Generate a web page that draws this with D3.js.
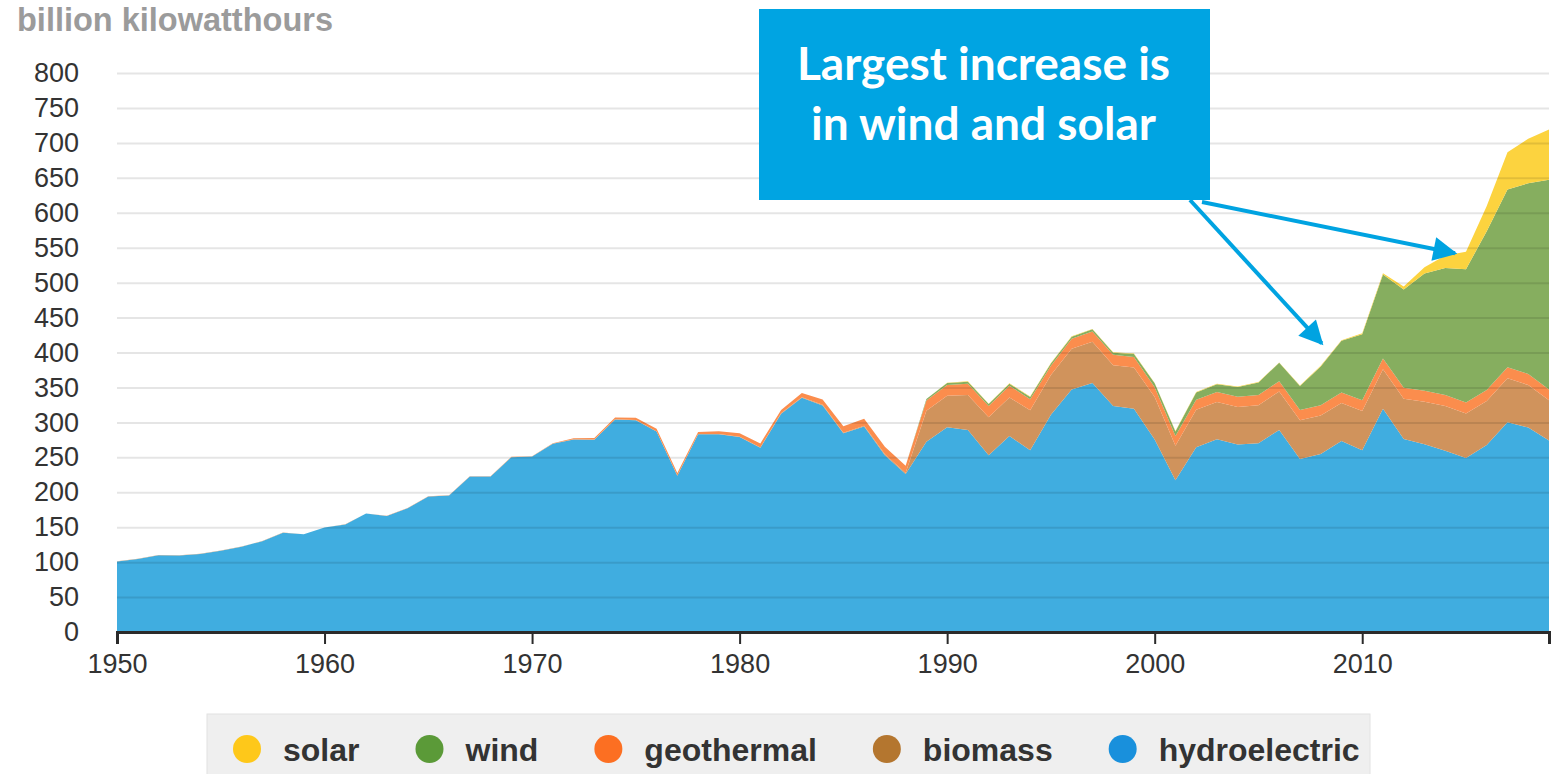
<!DOCTYPE html>
<html>
<head>
<meta charset="utf-8">
<script src="https://cdn.jsdelivr.net/npm/d3@7"></script>
<style>
  body { margin: 0; background: #fff; }
  svg { display: block; font-family: "Liberation Sans", Arial, sans-serif; }
</style>
</head>
<body>
<svg id="chart" width="1557" height="774"></svg>
<script>
// Renewable electricity generation, billion kWh, one value per year 1950-2019.
const years = d3.range(1950, 2020);

const hydroelectric = [
  100.9, 104.4, 109.7, 109.6, 111.6, 116.2, 122.0, 130.0, 142.0, 139.8,
  149.4, 154.0, 169.5, 166.0, 177.1, 193.9, 195.3, 222.5, 222.5, 250.2,
  251.0, 269.4, 275.5, 275.3, 304.1, 303.2, 286.9, 223.6, 283.0, 283.1,
  279.2, 263.8, 312.4, 335.3, 324.3, 284.3, 294.0, 252.9, 226.1, 272.1,
  292.9, 289.0, 253.1, 280.5, 260.1, 310.8, 347.2, 356.5, 323.3, 319.5,
  275.6, 217.0, 264.3, 275.8, 268.4, 270.3, 289.2, 247.5, 254.8, 273.4,
  260.2, 319.4, 276.2, 268.6, 259.4, 249.1, 267.8, 300.3, 292.5, 274.0
];

const biomass = [
  0.4, 0.4, 0.4, 0.3, 0.3, 0.3, 0.3, 0.3, 0.3, 0.2,
  0.1, 0.1, 0.1, 0.1, 0.1, 0.1, 0.1, 0.1, 0.1, 0.1,
  0.2, 0.2, 0.2, 0.2, 0.2, 0.2, 0.2, 0.2, 0.2, 0.2,
  0.3, 0.4, 0.5, 0.7, 0.8, 0.9, 1.0, 1.4, 1.6, 44.5,
  45.3, 50.3, 54.1, 55.1, 57.4, 56.9, 58.0, 58.8, 58.6, 59.1,
  60.7, 49.7, 53.7, 53.3, 53.5, 54.3, 54.9, 55.5, 55.0, 54.5,
  56.1, 56.7, 57.6, 60.9, 64.0, 63.6, 62.8, 62.7, 60.9, 57.5
];

const geothermal = [
  0, 0, 0, 0, 0, 0, 0, 0, 0, 0,
  0.03, 0.1, 0.1, 0.2, 0.2, 0.2, 0.2, 0.3, 0.4, 0.4,
  0.5, 0.5, 1.5, 2.0, 2.5, 3.2, 3.6, 3.6, 3.0, 3.9,
  5.1, 5.7, 4.8, 6.1, 7.7, 9.3, 10.3, 10.8, 10.3, 14.6,
  15.4, 16.0, 16.1, 16.8, 15.5, 13.4, 14.3, 14.7, 14.8, 14.8,
  14.1, 13.7, 14.5, 14.4, 14.8, 14.7, 14.6, 14.6, 14.8, 15.0,
  15.2, 15.3, 15.6, 15.8, 15.9, 15.9, 15.8, 15.9, 16.0, 15.5
];

const wind = [
  0, 0, 0, 0, 0, 0, 0, 0, 0, 0,
  0, 0, 0, 0, 0, 0, 0, 0, 0, 0,
  0, 0, 0, 0, 0, 0, 0, 0, 0, 0,
  0, 0, 0, 0, 0.01, 0.01, 0.01, 0.01, 0.01, 2.1,
  2.8, 2.9, 2.9, 3.0, 3.4, 3.2, 3.2, 3.3, 3.0, 4.5,
  5.6, 6.7, 10.4, 11.2, 14.1, 17.8, 26.6, 34.5, 55.4, 73.9,
  94.7, 120.2, 140.8, 167.8, 181.7, 190.7, 227.0, 254.3, 272.7, 300.1
];

const solar = [
  0, 0, 0, 0, 0, 0, 0, 0, 0, 0,
  0, 0, 0, 0, 0, 0, 0, 0, 0, 0,
  0, 0, 0, 0, 0, 0, 0, 0, 0, 0,
  0, 0, 0, 0, 0.01, 0.01, 0.01, 0.01, 0.01, 0.3,
  0.4, 0.5, 0.4, 0.5, 0.5, 0.5, 0.5, 0.5, 0.5, 0.5,
  0.5, 0.5, 0.6, 0.5, 0.6, 0.6, 0.5, 0.6, 0.9, 0.9,
  1.2, 1.8, 4.3, 9.0, 17.7, 24.9, 36.1, 53.3, 63.8, 72.0
];

// Stack order, bottom to top; the legend lists them top to bottom.
const seriesKeys = ['hydroelectric', 'biomass', 'geothermal', 'wind', 'solar'];
const legendKeys = ['solar', 'wind', 'geothermal', 'biomass', 'hydroelectric'];
const yTickValues = d3.range(0, 801, 50);
const xTickValues = [1950, 1960, 1970, 1980, 1990, 2000, 2010];

const unitLabel = 'billion kilowatthours';
const calloutLines = ['Largest increase is', 'in wind and solar'];
// Where the two callout arrows point, in data units [year, value].
const arrowTargets = [[2008.05, 413], [2014.47, 542]];

const areaColors = {
  hydroelectric: '#40ade0',
  biomass: '#d0935c',
  geothermal: '#fb8d4d',
  wind: '#86ae5f',
  solar: '#fcd33f'
};
const dotColors = {
  hydroelectric: '#1990dc',
  biomass: '#b4762f',
  geothermal: '#fc6f22',
  wind: '#5b9a38',
  solar: '#fec81a'
};

const margin = {top: 73, right: 8, bottom: 142, left: 117};
const width = 1557;
const height = 774;

const svg = d3.select('#chart');

const x = d3.scaleLinear()
    .domain([1950, 2019])
    .range([margin.left, width - margin.right]);
const y = d3.scaleLinear()
    .domain([0, 800])
    .range([height - margin.bottom, margin.top]);

const table = years.map((year, i) => ({
  year: year,
  hydroelectric: hydroelectric[i],
  biomass: biomass[i],
  geothermal: geothermal[i],
  wind: wind[i],
  solar: solar[i]
}));

const stacked = d3.stack().keys(seriesKeys)(table);

// Unit label above the y axis.
svg.append('text')
    .attr('x', 17)
    .attr('y', 31)
    .attr('fill', '#9b9b9b')
    .attr('font-size', 32.5)
    .attr('font-weight', 'bold')
    .text(unitLabel);

// Stacked areas.
const area = d3.area()
    .x(d => x(d.data.year))
    .y0(d => y(d[0]))
    .y1(d => y(d[1]));

svg.append('g')
    .selectAll('path')
    .data(stacked)
    .join('path')
    .attr('fill', d => areaColors[d.key])
    .attr('d', area);

// Gridlines sit on top, faint enough to show through the fills.
const yAxis = svg.append('g')
    .attr('transform', `translate(${margin.left},0)`)
    .call(d3.axisLeft(y)
        .tickValues(yTickValues)
        .tickSize(-(width - margin.left - margin.right))
        .tickPadding(38)
        .tickFormat(d3.format('d')));
yAxis.select('.domain').remove();
yAxis.selectAll('.tick line')
    .attr('stroke', '#000')
    .attr('stroke-opacity', d => d === 0 ? 0 : 0.1)
    .attr('stroke-width', 2);
yAxis.selectAll('.tick text')
    .attr('fill', '#333')
    .attr('font-size', 27)
    .attr('font-family', '"Liberation Sans", Arial, sans-serif');

const xAxis = svg.append('g')
    .attr('transform', `translate(0,${y(0)})`)
    .call(d3.axisBottom(x)
        .tickValues(xTickValues)
        .tickSize(12)
        .tickPadding(10)
        .tickFormat(d3.format('d')));
xAxis.select('.domain')
    .attr('stroke', '#2b2b2b')
    .attr('stroke-width', 3);
xAxis.selectAll('.tick line')
    .attr('stroke', '#2b2b2b')
    .attr('stroke-width', 2);
xAxis.selectAll('.tick text')
    .attr('fill', '#333')
    .attr('font-size', 27)
    .attr('font-family', '"Liberation Sans", Arial, sans-serif');

// Legend strip at the bottom.
const legend = svg.append('g');
legend.append('rect')
    .attr('x', 207)
    .attr('y', 714)
    .attr('width', 1163)
    .attr('height', 70)
    .attr('fill', '#efefef')
    .attr('stroke', '#e2e2e2');

let cursor = 247;
legendKeys.forEach(key => {
  legend.append('circle')
      .attr('cx', cursor)
      .attr('cy', 749)
      .attr('r', 14)
      .attr('fill', dotColors[key]);
  const label = legend.append('text')
      .attr('x', cursor + 36)
      .attr('y', 761)
      .attr('fill', '#333')
      .attr('font-size', 32)
      .attr('font-weight', 'bold')
      .text(key);
  cursor += 36 + label.node().getComputedTextLength() + 70;
});

// Callout box with two arrows.
const box = {x: 759, y: 9, w: 451, h: 191};
const callout = svg.append('g');

svg.append('defs').append('marker')
    .attr('id', 'head')
    .attr('viewBox', '0 0 10 10')
    .attr('refX', 9)
    .attr('refY', 5)
    .attr('markerWidth', 7)
    .attr('markerHeight', 6)
    .attr('orient', 'auto')
    .append('path')
    .attr('d', 'M0,0L10,5L0,10Z')
    .attr('fill', '#00a3e1');

const arrowStarts = [[box.x + box.w - 20, box.y + box.h], [box.x + box.w - 8, box.y + box.h + 2]];
arrowTargets.forEach((t, i) => {
  callout.append('line')
      .attr('x1', arrowStarts[i][0])
      .attr('y1', arrowStarts[i][1])
      .attr('x2', x(t[0]))
      .attr('y2', y(t[1]))
      .attr('stroke', '#00a3e1')
      .attr('stroke-width', 4)
      .attr('marker-end', 'url(#head)');
});

callout.append('rect')
    .attr('x', box.x)
    .attr('y', box.y)
    .attr('width', box.w)
    .attr('height', box.h)
    .attr('fill', '#00a4e2');

callout.selectAll('text.callout')
    .data(calloutLines)
    .join('text')
    .attr('class', 'callout')
    .attr('x', box.x + box.w / 2 - 1)
    .attr('y', (d, i) => 80 + i * 60)
    .attr('text-anchor', 'middle')
    .attr('fill', '#fff')
    .attr('font-family', 'Lato, "Open Sans", sans-serif')
    .attr('font-weight', 'bold')
    .attr('font-size', 46)
    .text(d => d);
</script>
</body>
</html>
